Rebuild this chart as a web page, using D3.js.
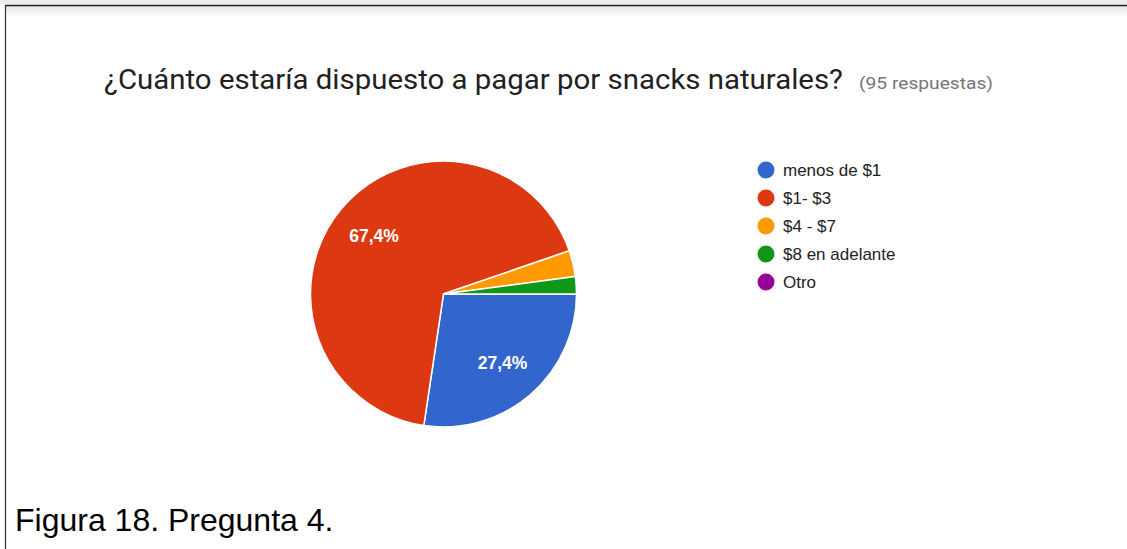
<!DOCTYPE html>
<html>
<head>
<meta charset="utf-8">
<script src="https://cdn.jsdelivr.net/npm/d3@7"></script>
<style>
  html, body { margin: 0; padding: 0; background: #fff; }
  svg { display: block; }
</style>
</head>
<body>
<svg id="chart" width="1127" height="549"></svg>
<script>
// Survey answers: how much respondents would pay for natural snacks
const categories = ["menos de $1", "$1- $3", "$4 - $7", "$8 en adelante", "Otro"];
const counts = [26, 64, 3, 2, 0];
const colors = ["#3366cc", "#dc3912", "#ff9900", "#109618", "#990099"];
const totalResponses = 95;
const titleText = "¿Cuánto estaría dispuesto a pagar por snacks naturales?";
const subtitleText = "(95 respuestas)";
const captionText = "Figura 18. Pregunta 4.";

const svg = d3.select("#chart");
const W = 1127, H = 549;

// frame: light strip, dark rule, soft shadow under the top rule
const defs = svg.append("defs");
const grad = defs.append("linearGradient").attr("id", "shade")
  .attr("x1", 0).attr("y1", 0).attr("x2", 0).attr("y2", 1);
grad.append("stop").attr("offset", "0%").attr("stop-color", "#e6e6e6");
grad.append("stop").attr("offset", "100%").attr("stop-color", "#ffffff");

svg.append("rect").attr("x", 0).attr("y", 0).attr("width", W).attr("height", 4).attr("fill", "#ececec");
svg.append("rect").attr("x", 6).attr("y", 6).attr("width", W - 6).attr("height", 12).attr("fill", "url(#shade)");
svg.append("line").attr("x1", 5).attr("x2", W).attr("y1", 5.5).attr("y2", 5.5)
  .attr("stroke", "#1a1a1a").attr("stroke-width", 1.5);
svg.append("line").attr("x1", 5.5).attr("x2", 5.5).attr("y1", 5).attr("y2", H)
  .attr("stroke", "#333").attr("stroke-width", 1.2);

// title and response count
svg.append("text")
  .attr("x", 104).attr("y", 89)
  .attr("font-family", "Roboto, Arial, sans-serif")
  .attr("font-size", 27)
  .attr("fill", "#212121")
  .attr("textLength", 739)
  .attr("lengthAdjust", "spacingAndGlyphs")
  .text(titleText);
svg.append("text")
  .attr("x", 859).attr("y", 89)
  .attr("font-family", "Roboto, Arial, sans-serif")
  .attr("font-size", 17)
  .attr("fill", "#757575")
  .attr("textLength", 134)
  .attr("lengthAdjust", "spacingAndGlyphs")
  .text(subtitleText);

// pie, starting at 3 o'clock and running clockwise
const cx = 443.5, cy = 294, R = 133;
const pie = d3.pie().sort(null).value(d => d.value)
  .startAngle(Math.PI / 2).endAngle(Math.PI / 2 + 2 * Math.PI);
const data = categories.map((c, i) => ({ name: c, value: counts[i], color: colors[i] }));
const arcs = pie(data);
const arc = d3.arc().innerRadius(0).outerRadius(R);
const labelArc = d3.arc().innerRadius(R * 0.68).outerRadius(R * 0.68);

const g = svg.append("g").attr("transform", `translate(${cx},${cy})`);
g.selectAll("path").data(arcs.filter(a => a.data.value > 0)).join("path")
  .attr("d", arc)
  .attr("fill", d => d.data.color)
  .attr("stroke", "#fff")
  .attr("stroke-width", 1.5)
  .attr("stroke-linejoin", "round");

const fmt = v => (v * 100).toFixed(1).replace(".", ",") + "%";
g.selectAll("text.pct").data(arcs.filter(a => a.data.value / totalResponses > 0.05)).join("text")
  .attr("class", "pct")
  .attr("transform", d => `translate(${labelArc.centroid(d)})`)
  .attr("text-anchor", "middle")
  .attr("dy", "0.35em")
  .attr("font-family", "Arial, 'Liberation Sans', sans-serif")
  .attr("font-size", 17.5)
  .attr("font-weight", "bold")
  .attr("fill", "#fff")
  .text(d => fmt(d.data.value / totalResponses));

// legend
const legend = svg.append("g").attr("transform", "translate(766,170)");
const rows = legend.selectAll("g").data(data).join("g")
  .attr("transform", (d, i) => `translate(0,${i * 28})`);
rows.append("circle").attr("r", 8.5).attr("fill", d => d.color);
rows.append("text")
  .attr("x", 17).attr("dy", "0.35em")
  .attr("font-family", "Arial, 'Liberation Sans', sans-serif")
  .attr("font-size", 17)
  .attr("fill", "#222")
  .text(d => d.name);

// caption
svg.append("text")
  .attr("x", 15).attr("y", 531)
  .attr("font-family", "Arial, 'Liberation Sans', sans-serif")
  .attr("font-size", 32)
  .attr("fill", "#000")
  .text(captionText);
</script>
</body>
</html>
